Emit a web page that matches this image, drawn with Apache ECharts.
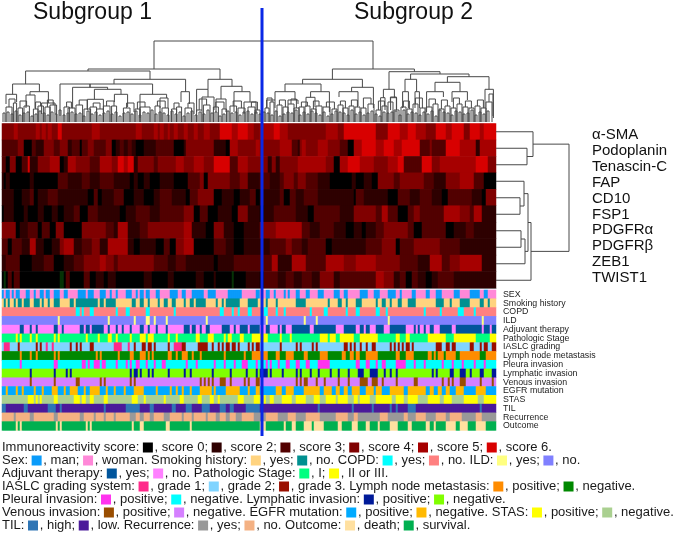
<!DOCTYPE html>
<html><head><meta charset="utf-8">
<script src="https://cdn.jsdelivr.net/npm/echarts@6/dist/echarts.min.js"></script>
<style>html,body{margin:0;background:#fff}#c{width:676px;height:535px}</style></head>
<body><div id="c"></div>
<script>
const FONT = '"Liberation Sans", Arial, sans-serif';
const rowNames = ['α-SMA','Podoplanin','Tenascin-C','FAP','CD10','FSP1','PDGFRα','PDGFRβ','ZEB1','TWIST1'];
const scoreColors = {0:'#000000',1:'#063306',2:'#2e0000',3:'#520000',4:'#800000',5:'#a60000',6:'#d80000'};
// score runs, "score:endColumn", subgroup 1 then subgroup 2
const heatLeft = [
"4:7 5:9 4:18 5:20 4:21 5:23 4:24 5:26 4:29 6:31 4:46 5:50 4:68 5:71 4:77 5:79 4:80 5:82 4:84 5:85 4:87 5:89 4:92 5:94 4:97 5:99 4:102 5:105 4:110 6:116 5:119 6:124 5:127 4:130",
"3:9 4:12 0:16 3:18 2:22 4:27 3:30 4:34 2:36 3:40 0:41 3:44 4:47 3:53 4:56 0:58 2:60 3:62 2:64 3:66 2:68 0:72 2:78 3:87 0:92 2:93 4:107 2:113 0:115 5:119 4:128 5:130",
"3:3 0:5 4:8 0:11 3:14 6:15 2:19 4:25 5:30 0:32 2:34 5:38 4:45 3:50 5:56 4:59 6:62 5:64 6:67 2:69 4:77 3:79 4:88 5:92 4:97 5:102 4:107 6:115 3:119 5:124 4:130",
"2:2 0:3 2:5 0:15 2:17 0:19 0:29 3:34 2:37 2:41 3:45 2:50 3:57 2:65 0:67 2:69 0:72 2:75 0:80 2:87 0:94 3:100 4:102 0:104 4:115 3:120 4:124 2:130",
"2:7 0:11 2:15 3:17 0:19 2:24 3:29 2:32 2:44 0:47 3:49 0:51 2:57 3:62 0:67 2:72 0:77 2:80 3:86 2:93 0:95 3:99 4:107 0:111 2:117 0:120 2:125 3:128 0:130",
"0:2 2:7 0:12 2:14 0:19 2:22 0:26 2:29 0:32 2:37 3:40 0:44 3:49 2:60 0:63 2:68 3:75 2:80 3:92 4:97 0:100 3:104 0:109 2:116 0:119 4:124 2:130",
"4:8 0:10 2:14 3:19 0:21 3:25 0:28 4:32 0:41 4:53 3:57 2:59 5:64 2:70 3:74 4:92 5:96 2:103 0:107 4:112 2:117 0:122 2:130",
"3:4 0:6 3:11 2:15 5:18 2:22 0:26 2:30 4:32 5:37 2:41 3:46 4:50 2:54 5:64 2:67 0:70 2:78 0:82 3:85 0:88 4:92 5:97 0:107 3:113 2:117 0:122 2:130",
"2:3 3:10 0:16 2:22 3:27 0:32 2:37 3:42 4:50 5:53 4:57 3:59 4:77 3:84 2:88 3:93 2:107 0:109 2:117 3:130",
"0:2 1:3 0:4 3:6 0:7 3:10 0:30 1:32 0:33 3:35 0:42 3:45 0:48 2:52 0:54 2:58 0:72 2:76 0:84 2:87 0:98 2:102 0:107 2:108 0:116 1:117 0:123 2:130"
];
const heatRight = [
"5:7 6:10 5:14 4:33 5:39 4:42 6:58 4:64 6:70 5:74 6:78 5:83 4:88 6:93 5:96 6:102 4:105 6:110 5:112 6:118",
"4:10 5:16 3:19 2:20 4:21 5:23 4:29 5:34 4:40 3:44 0:47 5:51 6:58 5:62 6:67 5:71 6:80 3:85 4:86 3:93 6:100 5:108 2:110 5:118",
"4:4 2:6 4:8 2:10 4:19 5:33 4:37 0:40 5:44 6:50 5:57 4:64 5:69 6:72 3:81 6:86 4:90 5:108 6:114 4:118",
"3:5 2:10 3:12 4:17 3:19 4:23 3:29 2:35 0:46 2:48 0:52 2:56 0:59 4:67 3:70 4:82 3:87 2:93 4:100 5:107 3:112 0:118",
"2:10 3:12 0:15 3:18 2:22 3:29 2:47 0:48 3:52 2:64 0:69 3:75 2:80 3:86 2:91 0:94 3:106 2:111 0:113 4:118",
"0:2 2:7 3:18 2:24 0:27 3:40 2:47 4:58 3:61 5:64 3:69 0:74 3:77 4:80 3:92 5:100 4:105 3:107 5:111 2:118",
"4:8 5:21 3:25 2:30 3:37 2:43 0:47 2:51 0:53 2:58 3:62 4:74 3:77 0:81 3:93 0:97 2:103 3:107 2:118",
"2:5 3:13 4:16 3:21 2:24 3:33 0:36 2:53 3:61 4:68 0:70 3:77 4:90 3:100 2:118",
"3:6 5:9 2:16 5:23 3:33 5:42 4:48 5:58 4:70 3:79 2:85 5:91 3:95 4:100 5:111 2:118",
"0:2 3:9 2:13 3:17 2:21 3:26 2:30 4:37 2:40 3:58 5:62 4:67 2:70 3:73 0:76 3:79 2:83 0:86 2:89 3:97 2:118"
];
const trackNames = ['SEX','Smoking history','COPD','ILD','Adjuvant therapy','Pathologic Stage','IASLC grading','Lymph node metastasis','Pleura invasion','Lymphatic invasion','Venous invasion','EGFR mutation','STAS','TIL','Recurrence','Outcome'];
const trackColors = [
['#0a9bfa','#ff88d8'],['#ffd37f','#009090'],['#00ffff','#ff8080'],['#ffff80','#8080ff'],
['#00559c','#ff80ff'],['#00ff80','#ffff00'],['#ff2a8a','#80d4ff','#9a0f00'],['#ff8c00','#008800'],
['#ff33ee','#00ffff'],['#001a99','#80ff00'],['#994d00','#d580ff'],['#00aaff','#ffb900'],
['#ffff00','#aad090'],['#2f75b5','#4b1a9a'],['#999999','#f4b183'],['#ffe0a0','#00b050']];
// "startState|toggle columns", or "state:endColumn" runs for the three-state IASLC track
const trackLeft = [
"0|2 3 5 6 7 8 10 13 15 17 18 20 22 23 25 27 30 32 34 39 43 44 47 50 53 55 56 58 59 63 66 68 69 70 72 73 75 78 80 85 89 91 93 96 102 104 108 114 121 128",
"0|2 3 4 5 7 8 9 11 12 15 17 20 21 22 24 25 27 30 35 37 38 49 50 52 53 58 66 68 70 72 74 75 79 80 82 84 86 88 92 93 95 97 98 103 108 109 111 112 113 120 124 129",
"1|38 40 41 42 45 47 58 59 63 65 73 75 87 88 110 112 116 117 119 120 124 126",
"1|29 30 54 55 67 68 73 75 77 78 83 84 103 104",
"1|10 12 15 16 18 19 27 29 31 32 40 42 43 45 46 52 54 55 58 59 61 62 65 66 70 72 74 75 78 79 83 84 92 95 96 98 100 101 103 105 111 115 117 118 120 124 125 130",
"0|8 9 10 11 15 16 18 19 27 28 29 30 43 44 49 50 54 56 58 59 65 66 70 73 74 77 84 85 88 89 98 100 104 107 112 113 114 116 120 122 126 130",
"2:2 1:5 2:9 3:10 2:18 3:19 2:20 3:21 2:23 1:24 2:26 1:27 2:35 3:36 2:38 3:39 2:40 3:41 2:45 3:47 2:57 1:61 2:64 1:65 2:67 3:68 2:71 3:73 2:74 3:76 2:77 3:78 2:84 3:85 2:87 1:91 3:93 2:99 3:104 2:106 3:107 2:109 3:110 2:111 3:112 2:113 3:115 2:116 3:118 2:119 3:120 2:124 3:125 2:126 3:127 2:128 3:130",
"1|10 11 15 16 18 19 27 28 29 30 48 49 50 51 59 60 65 67 70 73 74 75 76 77 84 86 88 89 91 94 96 97 100 101 112 113 122 123 126 130",
"1|10 11 27 29 41 43 44 45 47 50 51 53 58 59 63 64 65 66 68 70 73 74 77 78 81 83 93 94 98 99 107 108 112 113 117 118 121 124 128 129",
"1|15 16 27 28 33 34 35 36 65 66 67 69 70 71 74 75 76 77 84 85 92 93 95 96 106 107 115 116 123 124 128 129",
"1|15 16 27 28 38 40 50 51 52 53 65 66 67 68 100 101 102 103 104 105 106 107 110 113 115 116 122 123 124 125 128 130",
"0|3 4 8 9 11 12 17 18 21 22 26 29 32 33 35 39 42 43 45 50 53 54 57 58 62 63 67 72 78 79 85 86 88 89 91 92 95 96 100 106 107 108 113 120 124 125 128 130",
"1|14 17 18 19 20 21 27 29 37 40 41 43 45 47 52 54 66 69 72 73 82 83 90 92 99 101 105 107 109 110 119 122 127 130",
"0|3 12 14 24 28 30 31 52 53 63 70 75 77 86 88 93 96 101 105 110 113 115 117 123",
"1|7 8 15 17 27 29 40 42 47 48 52 53 57 58 65 68 70 72 75 77 82 85 91 92 96 97 103 104 108 110 113 115 118 121 127 130",
"1|8 9 10 11 28 29 30 31 43 44 45 46 66 67 70 72 83 85 95 96"
];
const trackRight = [
"1|3 5 7 8 12 13 14 15 18 20 23 25 29 32 37 40 42 44 50 54 57 60 64 68 70 71 76 78 83 85 88 91 97 100 105 110 112 114",
"0|3 4 8 9 18 23 34 35 39 41 43 44 48 51 58 59 61 63 65 66 69 71 74 78 88 92 95 96 100 105 110 112 114 115",
"1|2 4 8 9 12 13 25 26 32 34 43 44 48 50 58 60 63 64 82 83 90 91 99 102 107 108",
"1|3 4 22 23 28 29 64 65 111 112",
"1|3 5 9 10 11 13 16 25 27 38 42 48 50 52 53 55 58 62 65 73 77 78 79 80 82 83 85 87 90 96 98 111 112 115 116 118",
"1|4 10 11 15 16 30 34 35 38 40 47 50 59 68 70 73 75 84 93 97 108 115",
"2:10 3:11 2:18 3:19 2:20 3:21 2:26 3:27 2:28 3:29 2:42 3:44 2:45 3:46 2:47 3:48 2:50 3:51 2:53 3:54 2:56 3:58 2:65 3:66 2:67 3:68 2:69 3:70 2:71 3:72 2:73 3:75 2:76 3:77 2:88 3:91 2:93 3:95 2:96 3:98 2:105 3:107 2:110 3:111 2:112 3:114 2:116 3:118",
"0|4 8 10 13 17 22 24 30 34 41 43 45 47 48 50 53 59 68 70 73 77 84 86 87 88 89 92 93 98 100 110 113",
"1|3 4 5 6 9 10 13 15 18 20 23 25 29 35 48 50 53 55 58 59 61 63 68 73 77 78 82 83 91 92 96 97 101 102 107 108 112 113",
"0|4 5 6 11 12 18 19 20 21 25 26 29 30 35 36 39 40 44 45 49 52 55 59 62 63 65 66 68 69 86 87 88 89 95 97 100 103 105 106 110 112 116",
"1|18 19 20 21 22 24 28 29 32 33 39 40 44 45 50 54 56 59 61 62 68 69 77 79 91 92 94 95 96 97 100 103 110 111 116 117",
"0|8 11 13 17 22 30 32 36 38 40 42 44 46 50 53 57 58 61 65 72 74 83 85 87 89 91 93 95 98 102 108 113",
"1|2 3 5 7 11 16 18 23 27 30 33 38 39 44 47 49 50 55 58 66 68 72 74 79 84 90 92 96 102 109 112",
"1|29 30 46 47 56 57 65 66 68 69 74 78 110 111",
"0|3 9 14 18 23 30 38 44 47 49 60 64 72 74 78 83 88 93 95 101 108 111",
"0|3 12 13 16 18 22 26 27 32 39 41 46 49 53 55 59 60 65 69 74 76 83 85 87 88 93 98 100 104 108 113"
];
// column dendrogram: [leftLeaf, leftHeight, rightLeaf, rightHeight, mergeHeight]
const colLinks = [
[76,53,185.5,53,81],[43,51,109,42.7,53],[11.8,38,74,42.7,51],[5.3,27.7,18.7,30.3,38],[56,38,91.8,30.3,42.7],
[29,6,75.3,27.7,38],[44,34.7,44,34.7,38],[35.3,13.7,52.8,32.7,34.7],[46.2,22.7,59.5,27.7,32.7],[56.2,20,62.8,15,27.7],
[42.7,12,50.7,12,22.7],[69,4,82.3,24,27.7],[79,14,83,14,24],[2,18,7.3,20,27.7],[14,27,23.2,19,30.3],[12,14,16.5,14,27],
[19.8,8,26.5,8,19],[89.5,20,93.7,18,30.3],[103,32.7,115,35.7,42.7],[97.3,10,103,25,32.7],[100,12,106,12,25],
[109.5,23,120,30.3,35.7],[116,10,124,20,30.3],[121,8,127,8,20],[107,10,112,10,23],
[165.2,42.7,206.2,50.3,53],[150.3,38,180.2,34.7,42.7],[141.5,30.3,159.5,30.3,38],[136.5,22,146.5,22,30.3],[132.3,14,136.5,14,22],
[154.3,24.7,163.7,10,30.3],[152,15,156.5,15,24.7],[174.8,30.3,185.7,14,34.7],[168.5,25,178,16,30.3],[193.5,32.7,219,48,50.3],
[204.3,42.7,233.5,45.3,48],[222.7,39.7,243.5,32.7,45.3],[216.5,30.3,229,30.3,39.7],[212.3,10,220.7,25,30.3],[225,20,232.7,22,30.3],
[241.5,14,245.7,4,32.7],[201.5,30.3,207.3,30.3,42.7],[200.3,14,203.2,14,30.3],[206.5,14,208.7,14,30.3],[190.7,24.3,196.2,24.3,32.7],
[189.3,12,191.5,12,24.3],[194.3,12,197.3,12,24.3],[143,18,148,18,22],
[3.5,15,6.5,19,23],[9,14,12.3,16,21],[16.8,13,19.3,16,20],[22.7,15,25.6,17,22],[32.3,15,34.7,14,20],[38.6,17,42.6,13,22],[45.6,15,49,13,19],[52.3,16,56,16,21],[62.3,14,66,10,19],[67.7,13,71.5,15,20],[77.7,16,81.6,14,21],[86,13,88.5,15,19],[93,14,96,8,19],[98.6,12,102.3,17,23],[106.9,15,111,13,20],[115.6,16,119.7,14,21],[124.7,15,127.7,12,20],
[132.5,14,135,20,24],[138.7,17,141.7,15,22],[144.5,18,147.2,14,23],[149.7,15,152.7,16,20],[155.7,13,158.5,16,21],[162.2,15,166.2,13,20],[169.2,17,171.7,14,21],[174.7,16,177.7,15,22],[180.7,14,184.5,18,24],[188.2,12,191.2,16,21],[194.2,20,197.2,12,25],[200.7,15,203.7,13,21],[206.7,18,210.2,14,24],[213.5,15,216.7,18,23],[219.7,13,222.7,16,22],[225.7,14,228.7,18,24],[231.7,15,234.7,14,21],[237.7,16,240.7,14,22],[243.5,20,245.5,6,28]
];
// lower U shapes: [leftLeaf, rightLeaf, mergeHeight]
const colLowerLinks = [
[2,5,15],[5.7,7.3,19],[8,10.3,14],[11,13.7,16],[15.7,18,13],[18,20.7,16],[21.5,24,15],[24,27.3,17],[31,33.7,15],[33,36.5,14],
[37,40.3,17],[41,44.3,13],[44,47.3,15],[47.3,50.7,13],[50.7,54,16],[54.8,57.3,16],[60.7,64,14],[66.5,69,13],[69,74,15],[76.5,79,16],
[80,83.2,14],[84.8,87.3,13],[87.3,89.8,15],[91.5,94.8,14],[97.3,100,12],[100.7,104,17],[105.7,108.2,15],[110,112.3,13],[114,117.3,16],[118,121.5,14],[123,126.5,15],[126.5,129,12],
[131.5,133.5,14],[134,136,20],[137.5,140,17],[140.5,143,15],[143,146,18],[146,148.5,14],[148.5,151,15],[151.5,154,16],[154.5,157,13],[157,160,16],[160.5,164,15],[165,167.5,13],[168,170.5,17],[170.5,173,14],[173.5,176,16],[176.5,179,15],[179.5,182,14],[183,186,18],[187,189.5,12],[190,192.5,16],[193,195.5,20],[196,198.5,12],[199.5,202,15],[202.5,205,13],[205.5,208,18],[209,211.5,14],[212,215,15],[215.5,218,18],[218.5,221,13],[221.5,224,16],[224.5,227,14],[227.5,230,18],[230.5,233,15],[233.5,236,14],[236.5,239,16],[239.5,242,14],[242,245,20]
];
// height of each pair of neighbouring leaves, hex digit
const leafPairHeights = "9a8b79a68b97a8c79a896b8a79b8a69a8b7a9c8a97b8a69b7a8c9a68b9a7ab8a" + "8a97b68a9c7a8b97a68ba97c8a79b86a9ab7c8a97a8b6ca97ba89c7a8b";
// row dendrogram: [childA, childB, mergeHeight], leaves 0-9, nodes from 10
const rowMerges = [[1,2,31],[0,10,37],[4,5,24],[3,12,28],[6,7,25],[14,8,29],[13,15,32],[16,9,35],[11,17,73]];
const subgroupSplit = 130;
const titles = [['Subgroup 1',28],['Subgroup 2',349]];
const legendLines = [
['Immunoreactivity score: ',scoreColors[0],' , score 0; ',scoreColors[2],' , score 2; ',scoreColors[3],' , score 3; ',scoreColors[4],' , score 4; ',scoreColors[5],' , score 5; ',scoreColors[6],' , score 6.'],
['Sex: ',trackColors[0][0],' , man; ',trackColors[0][1],' , woman. Smoking history: ',trackColors[1][0],' , yes; ',trackColors[1][1],' , no. COPD: ',trackColors[2][0],' , yes; ',trackColors[2][1],' , no. ILD: ',trackColors[3][0],' , yes; ',trackColors[3][1],' , no.'],
['Adjuvant therapy: ',trackColors[4][0],' , yes; ',trackColors[4][1],' , no. Pathologic Stage: ',trackColors[5][0],' , I; ',trackColors[5][1],' , II or III.'],
['IASLC grading system: ',trackColors[6][0],' , grade 1; ',trackColors[6][1],' , grade 2; ',trackColors[6][2],' , grade 3. Lymph node metastasis: ',trackColors[7][0],' , positive; ',trackColors[7][1],' , negative.'],
['Pleural invasion: ',trackColors[8][0],' , positive; ',trackColors[8][1],' , negative. Lymphatic invasion: ',trackColors[9][0],' , positive; ',trackColors[9][1],' , negative.'],
['Venous invasion: ',trackColors[10][0],' , positive; ',trackColors[10][1],' , negative. EGFR mutation: ',trackColors[11][0],' , positive; ',trackColors[11][1],' , negative. STAS: ',trackColors[12][0],' , positive; ',trackColors[12][1],' , negative.'],
['TIL: ',trackColors[13][0],' , high; ',trackColors[13][1],' , low. Recurrence: ',trackColors[14][0],' , yes; ',trackColors[14][1],' , no. Outcome: ',trackColors[15][0],' , death; ',trackColors[15][1],' , survival.']
];

const N = 247;
const cols = Array.from({length:N},(_,i)=>i);
function expand(s,len){
  const out=new Array(len).fill(0);
  if(s.includes(':')){
    let p=0; s.trim().split(/\s+/).forEach(t=>{const [v,e]=t.split(':').map(Number);for(;p<e&&p<len;p++)out[p]=v;});
    for(;p<len;p++)out[p]=out[p-1];
    return out;
  }
  const [st,rest]=s.split('|'); let state=+st,p=0;
  rest.trim().split(/\s+/).map(Number).forEach(e=>{for(;p<e&&p<len;p++)out[p]=state;state=1-state;});
  for(;p<len;p++)out[p]=state;
  return out;
}
const fullRow=(l,r)=>expand(l,130).slice(1).concat(expand(r,118));
const heatData=[];
heatLeft.forEach((l,r)=>{fullRow(l,heatRight[r]).forEach((v,c)=>heatData.push({value:[c,r,v],itemStyle:{color:scoreColors[v]}}));});
const trackData=[];
trackLeft.forEach((l,r)=>{const three=l.includes(':');fullRow(l,trackRight[r]).forEach((v,c)=>trackData.push({value:[c,r,v],itemStyle:{color:trackColors[r][three?v-1:v]}}));});

const allLinks=colLinks.concat(colLowerLinks.map(([a,b,h])=>[a,0,b,0,h]));
leafPairHeights.split('').forEach((ch,p)=>{allLinks.push([2*p+.5,0,2*p+1.5,0,parseInt(ch,16)]);});
const rowPos={};for(let i=0;i<10;i++){rowPos[i]=[i+.5,0];}
const rowLinks=rowMerges.map(([a,b,h],i)=>{const A=rowPos[a],B=rowPos[b];rowPos[10+i]=[(A[0]+B[0])/2,h];return [A[1],A[0],B[1],B[0],h];});

const LINE='#484848';
const chart=echarts.init(document.getElementById('c'),null,{renderer:'canvas'});
const hiddenCat=(data,extra)=>Object.assign({type:'category',data,show:false},extra||{});
const option={
 animation:false,backgroundColor:'#fff',
 textStyle:{fontFamily:FONT},
 title:titles.map(([t,x])=>({text:t,left:x,top:-4,textStyle:{fontSize:23,fontWeight:'normal',color:'#111',fontFamily:FONT}})),
 grid:[
  {left:2,width:494,top:123.5,height:164.5},
  {left:2,width:494,top:290,height:140.4},
  {left:2,width:494,top:8,height:428},
  {left:496,width:80,top:123.5,height:165},
  {left:591,width:1,top:127,height:159}
 ],
 xAxis:[
  {type:'category',data:cols,gridIndex:0,axisLine:{show:true,onZero:false,lineStyle:{color:'#999',width:1}},axisTick:{show:false},axisLabel:{show:false}},
  hiddenCat(cols,{gridIndex:1}),
  {type:'value',gridIndex:2,min:0,max:N,show:false},
  {type:'value',gridIndex:3,min:0,max:80,show:false},
  {type:'value',gridIndex:4,min:0,max:1,show:false}
 ],
 yAxis:[
  hiddenCat(rowNames,{gridIndex:0,inverse:true}),
  {type:'category',data:trackNames,gridIndex:1,inverse:true,position:'right',axisLine:{show:false},axisTick:{show:false},
   axisLabel:{interval:0,margin:7,fontSize:8.8,color:'#222',fontFamily:FONT,align:'left'}},
  {type:'value',gridIndex:2,min:-314,max:114,show:false},
  {type:'value',gridIndex:3,min:0,max:10,inverse:true,show:false},
  {type:'category',data:rowNames,gridIndex:4,inverse:true,position:'left',axisLine:{show:false},axisTick:{show:false},
   axisLabel:{interval:0,margin:-1,fontSize:15,color:'#111',fontFamily:FONT,align:'left'}}
 ],
 series:[
  {type:'heatmap',xAxisIndex:0,yAxisIndex:0,data:heatData,silent:true,progressive:0,z:2},
  {type:'heatmap',xAxisIndex:1,yAxisIndex:1,data:trackData,silent:true,progressive:0,z:2},
  {type:'custom',xAxisIndex:2,yAxisIndex:2,data:allLinks,silent:true,clip:false,z:3,
   encode:{x:[0,2],y:[1,3,4]},
   renderItem:(p,api)=>{const x1=api.value(0),h1=api.value(1),x2=api.value(2),h2=api.value(3),t=api.value(4);
    return {type:'polyline',shape:{points:[api.coord([x1,h1]),api.coord([x1,t]),api.coord([x2,t]),api.coord([x2,h2])]},style:{stroke:LINE,lineWidth:1,fill:null}};}},
  {type:'custom',xAxisIndex:3,yAxisIndex:3,data:rowLinks,silent:true,clip:false,z:3,
   encode:{x:[0,2,4],y:[1,3]},
   renderItem:(p,api)=>{const h1=api.value(0),y1=api.value(1),h2=api.value(2),y2=api.value(3),t=api.value(4);
    return {type:'polyline',shape:{points:[api.coord([h1,y1]),api.coord([t,y1]),api.coord([t,y2]),api.coord([h2,y2])]},style:{stroke:LINE,lineWidth:1,fill:null}};}},
  {type:'custom',xAxisIndex:2,yAxisIndex:2,data:[[subgroupSplit]],silent:true,clip:false,z:10,
   encode:{x:0},
   renderItem:(p,api)=>{const a=api.coord([api.value(0),114]),b=api.coord([api.value(0),-314]);
    return {type:'line',shape:{x1:a[0],y1:a[1],x2:b[0],y2:b[1]},style:{stroke:'#0a28e6',lineWidth:3}};}}
 ],
 graphic:legendLines.map((ln,i)=>{
  const rich={g:{width:1.7}};let text='';
  ln.forEach((part,k)=>{ if(k%2===0){text+=part.replace(/^ ,/,'{g| },');} else {const key='s'+k;rich[key]={width:10,height:10,backgroundColor:part};text+='{'+key+'| }';} });
  return {type:'text',left:2,top:441+i*13,z:5,silent:true,style:{text,rich,font:'13px '+FONT,fill:'#1a1a1a'}};
 })
};
chart.setOption(option);
</script></body></html>
